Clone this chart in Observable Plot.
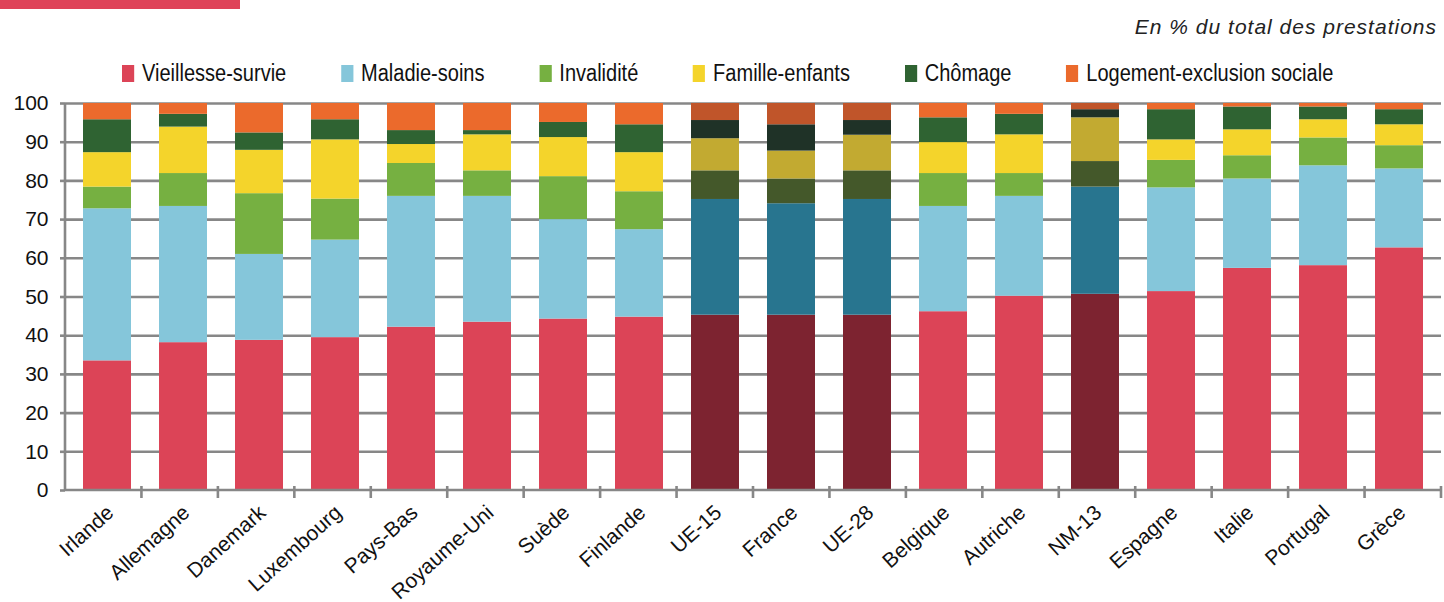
<!DOCTYPE html>
<html lang="fr">
<head>
<meta charset="utf-8">
<script src="https://cdn.jsdelivr.net/npm/d3@7"></script>
<script src="https://cdn.jsdelivr.net/npm/@observablehq/plot@0.6"></script>
<style>
  body { margin: 0; background: #fff; }
  #wrap { position: relative; width: 1444px; height: 602px; overflow: hidden;
          font-family: "Liberation Sans", Arial, sans-serif; color: #111; }
  #head { position: relative; height: 85px; }
  .bandeau { position: absolute; left: 0; top: 0; width: 240px; height: 9px; background: #df4359; }
  .unite { position: absolute; right: 7px; top: 15px; font: italic 21px "Liberation Sans", Arial, sans-serif;
           letter-spacing: 1px; color: #222; }
  .legende { position: absolute; left: 122px; top: 60px; display: flex; gap: 63px; font-size: 23px; line-height: 26px;
             transform: scaleX(0.87); transform-origin: left center; white-space: nowrap; }
  .item { display: flex; align-items: center; }
  .swatch { width: 14px; height: 17px; margin-right: 9px; }
  svg { overflow: visible; display: block; }
</style>
</head>
<body>
<div id="wrap">
  <div id="head">
    <div class="bandeau"></div>
    <div class="unite">En % du total des prestations</div>
    <div class="legende" id="legende"></div>
  </div>
  <div id="chart"></div>
</div>
<script>
// Pays et agrégats, dans l'ordre croissant de la part vieillesse-survie
const pays = ["Irlande", "Allemagne", "Danemark", "Luxembourg", "Pays-Bas", "Royaume-Uni", "Suède", "Finlande",
  "UE-15", "France", "UE-28", "Belgique", "Autriche", "NM-13", "Espagne", "Italie", "Portugal", "Grèce"];

// Barres mises en évidence (agrégats européens et France)
const enEvidence = ["UE-15", "France", "UE-28", "NM-13"];

const risques = ["Vieillesse-survie", "Maladie-soins", "Invalidité", "Famille-enfants", "Chômage", "Logement-exclusion sociale"];

// Parts en % du total des prestations
const vieillesse = [33.5, 38.2, 38.8, 39.5, 42.2, 43.5, 44.3, 44.8, 45.3, 45.3, 45.3, 46.2, 50.2, 50.7, 51.4, 57.4, 58.1, 62.7];
const maladie    = [39.3, 35.2, 22.2, 25.2, 33.8, 32.5, 25.7, 22.6, 29.9, 28.8, 29.9, 27.2, 25.8, 27.7, 26.8, 23.1, 25.8, 20.4];
const invalidite = [5.6, 8.5, 15.7, 10.6, 8.5, 6.6, 11.1, 9.8, 7.4, 6.4, 7.4, 8.5, 5.9, 6.6, 7.1, 6.0, 7.2, 6.0];
const famille    = [8.9, 12.0, 11.2, 15.3, 4.9, 9.3, 10.1, 10.1, 8.3, 7.2, 9.2, 8.0, 10.0, 11.3, 5.3, 6.7, 4.7, 5.4];
const chomage    = [8.5, 3.3, 4.5, 5.2, 3.6, 1.1, 3.9, 7.2, 4.7, 6.8, 3.8, 6.4, 5.3, 2.1, 7.8, 5.9, 3.3, 3.9];
const logement   = [4.2, 2.8, 7.6, 4.2, 7.0, 7.0, 4.9, 5.5, 4.4, 5.5, 4.4, 3.7, 2.8, 1.6, 1.6, 0.9, 0.9, 1.6];

const couleurs        = ["#dc4457", "#85c6da", "#76b041", "#f4d42b", "#2f6332", "#eb6a2c"];
const couleursFoncees = ["#7d2330", "#28758f", "#44582a", "#c2aa31", "#1f3227", "#c0552a"];

const series = [vieillesse, maladie, invalidite, famille, chomage, logement];

// Table longue : une ligne par pays et par risque, empilée dans l'ordre des risques
const table = [];
pays.forEach((p, i) => {
  const fonce = enEvidence.includes(p);
  risques.forEach((r, j) => {
    table.push({pays: p, risque: r, part: series[j][i], couleur: (fonce ? couleursFoncees : couleurs)[j]});
  });
});

// Légende
const leg = document.getElementById("legende");
risques.forEach((r, j) => {
  const it = document.createElement("div");
  it.className = "item";
  it.innerHTML = `<span class="swatch" style="background:${couleurs[j]}"></span><span>${r}</span>`;
  leg.appendChild(it);
});

const gris = "#878787";
const police = '"Liberation Sans", Arial, sans-serif';

const W = 1444, H = 517;
const margin = {top: 18, right: 3, bottom: 112, left: 65};

// Ligne de base, axe vertical et graduations entre les barres
function axes(index, scales, values, dim) {
  const g = d3.create("svg:g").attr("stroke", gris).attr("stroke-width", 2.6);
  const x0 = dim.marginLeft, x1 = dim.width - dim.marginRight;
  const y0 = scales.y(0), y100 = scales.y(100);
  g.append("line").attr("x1", x0).attr("x2", x0).attr("y1", y0).attr("y2", y100);
  g.append("line").attr("x1", x0).attr("x2", x1).attr("y1", y0).attr("y2", y0);
  const pas = (x1 - x0) / pays.length;
  for (let k = 1; k <= pays.length; k++) {
    const x = x0 + k * pas;
    g.append("line").attr("x1", x).attr("x2", x).attr("y1", y0 - 4).attr("y2", y0 + 8);
  }
  return g.node();
}

const chart = Plot.plot({
  width: W,
  height: H,
  marginTop: margin.top,
  marginRight: margin.right,
  marginBottom: margin.bottom,
  marginLeft: margin.left,
  style: {fontFamily: police, fontSize: "21px", color: "#111", overflow: "visible"},
  x: {domain: pays, paddingInner: 0.37, paddingOuter: 0.185, label: null},
  y: {domain: [0, 100], ticks: d3.range(0, 101, 10), label: null},
  color: {type: "identity"},
  marks: [
    Plot.gridY(d3.range(10, 101, 10), {stroke: gris, strokeWidth: 2.6, strokeOpacity: 1}),
    Plot.barY(table, {x: "pays", y: "part", z: "risque", fill: "couleur"}),
    axes,
    Plot.axisY(d3.range(0, 101, 10), {tickSize: 5, tickPadding: 12, stroke: gris, strokeWidth: 2.6, label: null}),
    Plot.axisX({tickSize: 0, tickRotate: -42, tickPadding: 19, dx: 3, label: null})
  ]
});

document.getElementById("chart").appendChild(chart);
</script>
</body>
</html>
